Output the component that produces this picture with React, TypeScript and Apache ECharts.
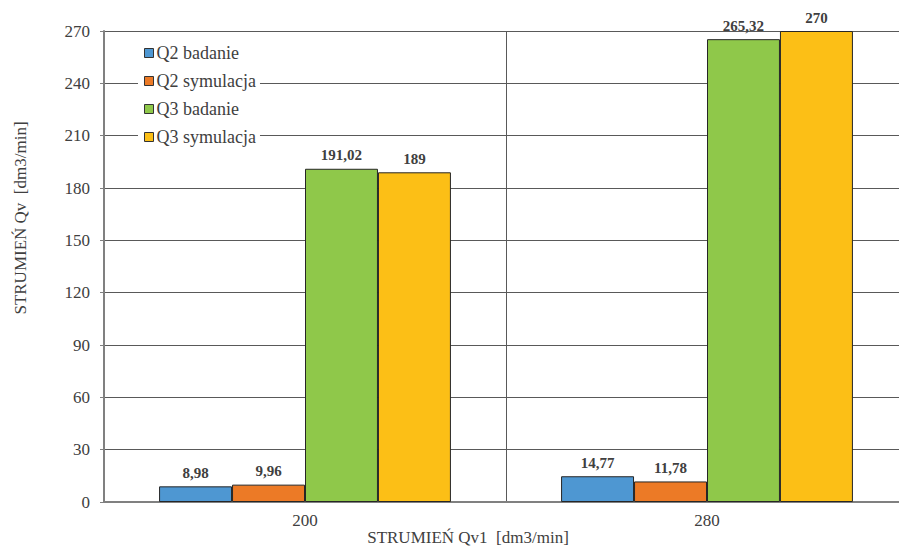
import React, { useEffect, useRef } from "react";
import * as echarts from "echarts";

// Categories on the x axis: inlet flow Qv1 [dm3/min]
const categories = ["200", "280"];

// Measured and simulated flows [dm3/min]
const q2Badanie = [8.98, 14.77];
const q2Symulacja = [9.96, 11.78];
const q3Badanie = [191.02, 265.32];
const q3Symulacja = [189, 270];

const seriesNames = ["Q2 badanie", "Q2 symulacja", "Q3 badanie", "Q3 symulacja"];
const seriesColors = ["#4E97D2", "#EC7A26", "#8FC84A", "#FCBF16"];

const FONT = "Liberation Serif";

const fmt = (v: number) => String(v).replace(".", ",");

export default function App() {
  const ref = useRef<HTMLDivElement>(null);

  useEffect(() => {
    if (!ref.current) return;
    const chart = echarts.init(ref.current, null, { renderer: "svg" });
    const data = [q2Badanie, q2Symulacja, q3Badanie, q3Symulacja];

    chart.setOption({
      animation: false,
      backgroundColor: "#ffffff",
      textStyle: { fontFamily: FONT },
      grid: {
        left: 104,
        top: 31,
        width: 804,
        height: 471,
        containLabel: false,
        outerBoundsMode: "none",
      },
      legend: {
        orient: "vertical",
        left: 138,
        top: 41,
        padding: [3, 4, 3, 6],
        itemGap: 10,
        itemWidth: 9,
        itemHeight: 9,
        icon: "rect",
        backgroundColor: "#ffffff",
        data: seriesNames,
        itemStyle: { borderColor: "#333333", borderWidth: 1 },
        textStyle: { fontFamily: FONT, fontSize: 18, color: "#404040", padding: [0, 0, 0, -2] },
      },
      xAxis: {
        type: "category",
        data: categories,
        axisLine: { show: true, lineStyle: { color: "#808080", width: 2 } },
        axisTick: { show: false },
        axisLabel: { fontFamily: FONT, fontSize: 17, color: "#404040", margin: 10 },
        splitLine: { show: true, interval: 0, lineStyle: { color: "#595959", width: 1 } },
      },
      yAxis: {
        type: "value",
        min: 0,
        max: 270,
        interval: 30,
        axisLine: { show: true, lineStyle: { color: "#808080", width: 2 } },
        axisTick: { show: true, length: 4, lineStyle: { color: "#808080" } },
        axisLabel: { fontFamily: FONT, fontSize: 17, color: "#404040", margin: 14 },
        splitLine: { show: true, lineStyle: { color: "#595959", width: 1 } },
      },
      series: seriesNames.map((name, i) => ({
        name,
        type: "bar",
        data: data[i],
        barGap: "0%",
        barCategoryGap: "27.4%",
        itemStyle: { color: seriesColors[i], borderColor: "#262626", borderWidth: 1 },
        label: {
          show: true,
          position: "top",
          distance: 6,
          fontFamily: FONT,
          fontSize: 15,
          fontWeight: "bold",
          color: "#404040",
          formatter: (p: any) => fmt(p.value),
        },
      })),
      graphic: [
        {
          type: "text",
          x: 20,
          y: 218,
          rotation: Math.PI / 2,
          style: {
            text: "STRUMIEŃ Qv  [dm3/min]",
            fontFamily: FONT,
            fontSize: 17,
            fill: "#404040",
            align: "center",
            verticalAlign: "middle",
          },
        },
        {
          type: "text",
          x: 468,
          y: 537,
          style: {
            text: "STRUMIEŃ Qv1  [dm3/min]",
            fontFamily: FONT,
            fontSize: 17,
            fill: "#404040",
            align: "center",
            verticalAlign: "middle",
          },
        },
      ],
    });

    return () => chart.dispose();
  }, []);

  return <div ref={ref} style={{ width: 899, height: 547, position: "absolute", left: 0, top: 0 }} />;
}
